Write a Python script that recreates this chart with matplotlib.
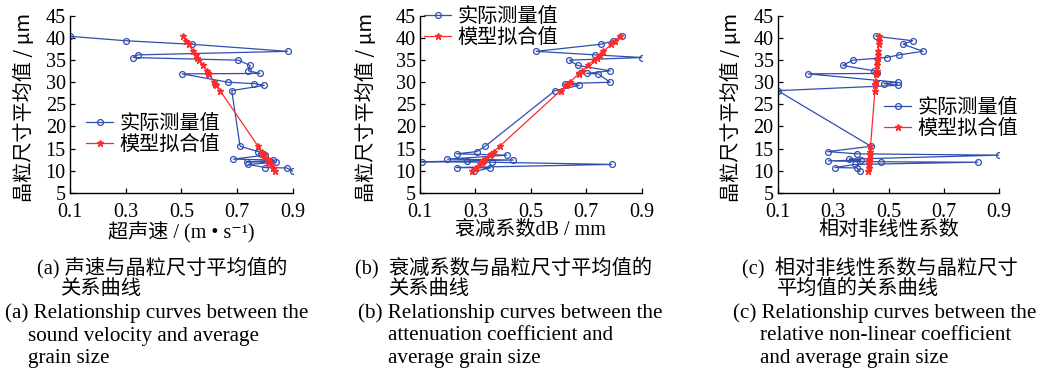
import matplotlib
matplotlib.use("Agg")
import matplotlib.pyplot as plt

# ---------------- data ----------------
grain_size = [40.4, 39.4, 38.6, 37.0, 36.2, 35.6, 35.0, 33.8, 32.6, 32.0, 31.9,
              30.0, 29.7, 29.3, 28.1, 15.5, 14.3, 13.8, 13.5, 12.6, 12.4, 12.2,
              12.0, 11.9, 11.4, 10.7, 10.6, 9.8]

velocity_meas = [0.10, 0.30, 0.537, 0.882, 0.343, 0.327, 0.705, 0.747, 0.741, 0.783,
                 0.503, 0.669, 0.761, 0.798, 0.681, 0.711, 0.777, 0.785, 0.800, 0.687,
                 0.830, 0.820, 0.735, 0.840, 0.741, 0.800, 0.879, 0.902]
velocity_fit = [0.506, 0.517, 0.526, 0.543, 0.552, 0.558, 0.565, 0.578, 0.591, 0.597,
                0.598, 0.619, 0.622, 0.626, 0.639, 0.776, 0.789, 0.795, 0.798, 0.808,
                0.810, 0.812, 0.814, 0.815, 0.821, 0.828, 0.829, 0.838]

atten_meas = [0.830, 0.798, 0.752, 0.519, 0.733, 0.900, 0.639, 0.669, 0.786, 0.701,
              0.743, 0.786, 0.623, 0.675, 0.587, 0.335, 0.305, 0.232, 0.413, 0.199,
              0.437, 0.270, 0.106, 0.359, 0.792, 0.232, 0.353, 0.296]
atten_fit = [0.822, 0.804, 0.790, 0.762, 0.748, 0.738, 0.727, 0.707, 0.686, 0.675,
             0.673, 0.640, 0.635, 0.628, 0.607, 0.387, 0.366, 0.357, 0.352, 0.336,
             0.332, 0.329, 0.325, 0.324, 0.315, 0.303, 0.301, 0.287]

nonlin_meas = [0.455, 0.587, 0.553, 0.625, 0.538, 0.493, 0.371, 0.335, 0.447, 0.458,
               0.210, 0.533, 0.484, 0.535, 0.100, 0.437, 0.280, 0.388, 0.900, 0.359,
               0.400, 0.283, 0.472, 0.822, 0.379, 0.307, 0.386, 0.397]
nonlin_fit = [0.467, 0.466, 0.465, 0.463, 0.462, 0.461, 0.460, 0.458, 0.457, 0.456,
              0.456, 0.454, 0.453, 0.453, 0.451, 0.435, 0.433, 0.432, 0.432, 0.431,
              0.430, 0.430, 0.430, 0.430, 0.429, 0.428, 0.428, 0.427]

x_ticks = [0.1, 0.3, 0.5, 0.7, 0.9]
y_ticks = [5, 10, 15, 20, 25, 30, 35, 40, 45]

y_label = "晶粒尺寸平均值 / μm"
x_labels = ["超声速 / (m • s⁻¹)", "衰减系数dB / mm", "相对非线性系数"]
legend_labels = ["实际测量值", "模型拟合值"]

captions_cn = [["(a) 声速与晶粒尺寸平均值的", "关系曲线"],
               ["(b)  衰减系数与晶粒尺寸平均值的", "关系曲线"],
               ["(c)  相对非线性系数与晶粒尺寸", "平均值的关系曲线"]]
captions_en = [["(a) Relationship curves between the", "sound velocity and average", "grain size"],
               ["(b) Relationship curves between the", "attenuation coefficient and", "average grain size"],
               ["(c) Relationship curves between the", "relative non-linear coefficient", "and average grain size"]]

# ---------------- style ----------------
FAM = ["Liberation Serif", "Noto Sans CJK SC", "DejaVu Serif"]
FAM_CJK = ["Noto Sans CJK SC", "Liberation Serif", "DejaVu Serif"]
BLUE = "#2f4fb0"
RED = "#ff2a2a"

W, H = 1048, 375
fig = plt.figure(figsize=(W / 100, H / 100), dpi=100)

axes_px = [(70, 292.7), (420, 641.7), (777.7, 999.3)]
top_px, bot_px = 16, 192.7
ylabel_x = [-0.157, -0.194, -0.161]

meas = [velocity_meas, atten_meas, nonlin_meas]
fits = [velocity_fit, atten_fit, nonlin_fit]
leg_anchor = [(86, 134), (424, 27), (884, 118)]

for i in range(3):
    l, r = axes_px[i]
    ax = fig.add_axes([l / W, 1 - bot_px / H, (r - l) / W, (bot_px - top_px) / H])
    ax.plot(meas[i], grain_size, color=BLUE, lw=0.9, marker="o", ms=4.2,
            mfc="none", mec=BLUE, mew=0.9, label=legend_labels[0])
    ax.plot(fits[i], grain_size, color=RED, lw=0.9, marker="*", ms=4.5,
            mfc=RED, mec=RED, label=legend_labels[1])
    ax.set_xlim(0.1, 0.9)
    ax.set_ylim(5, 45)
    ax.set_xticks(x_ticks)
    ax.set_xticklabels([f"{v:.1f}" for v in x_ticks], family=FAM, fontsize=14.5)
    ax.set_yticks(y_ticks)
    ax.set_yticklabels([str(v) for v in y_ticks], family=FAM, fontsize=14.5)
    ax.tick_params(direction="in", length=3.5, width=0.9, color="black")
    ax.tick_params(axis="x", pad=7.5)
    ax.tick_params(axis="y", pad=3)
    for s in ["top", "right"]:
        ax.spines[s].set_visible(False)
    for s in ["left", "bottom"]:
        ax.spines[s].set_linewidth(1.0)
    ax.set_ylabel(y_label, family=FAM_CJK, fontsize=14.5)
    ax.yaxis.set_label_coords(ylabel_x[i], 0.48)
    ax.set_xlabel(x_labels[i], family=FAM, fontsize=14.5)
    ax.xaxis.set_label_coords(0.5, -0.158)
    ax.patch.set_alpha(0)

    lx, ly = leg_anchor[i]
    ax.legend(loc="center left", bbox_to_anchor=(lx / W, 1 - ly / H),
              bbox_transform=fig.transFigure, frameon=False,
              prop={"family": FAM_CJK, "size": 14.5}, handlelength=1.35,
              handletextpad=0.3, labelspacing=0.0, borderpad=0, borderaxespad=0)

# ---------------- captions ----------------
cn_pos = [[(37, 268), (60, 289)], [(355, 268), (388, 289)], [(742, 268), (777, 289)]]
en_pos = [[(5, 313), (28, 336), (28, 358)], [(358, 313), (388, 336), (388, 358)],
          [(733, 313), (760, 336), (760, 358)]]
for i in range(3):
    for txt, (x, y) in zip(captions_cn[i], cn_pos[i]):
        fig.text(x / W, 1 - y / H, txt, family=FAM, fontsize=14.6, va="center", ha="left")
    for txt, (x, y) in zip(captions_en[i], en_pos[i]):
        fig.text(x / W, 1 - y / H, txt, family=FAM, fontsize=15.2, va="center", ha="left")

fig.savefig("out.png", dpi=100)
